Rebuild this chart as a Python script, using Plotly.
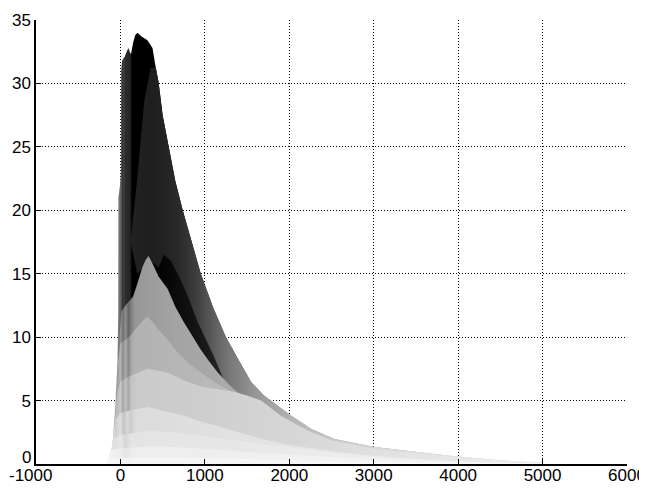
import plotly.graph_objects as go

# ---------------- data ----------------
# outer envelope (tallest, back-most surface row)
ENV_X = [-170, -140, -95, -60, -35, -26, -24, -5, 5, 8, 20, 50, 80, 95, 110, 125, 150, 175, 200,
         250, 320, 380, 417, 452, 500, 571, 650, 738, 850, 952, 1100, 1250, 1400, 1550, 1700,
         1800, 2024, 2262, 2536, 3012, 3536, 3930, 4500, 5000]
ENV_Y = [0, 0.4, 1.4, 4.6, 8.0, 12.0, 21.0, 22.0, 23.0, 31.0, 31.8, 32.1, 32.6, 32.8, 32.5, 32.3, 33.2, 33.8, 34.0,
         33.7, 33.4, 32.8, 31.3, 30.1, 27.5, 25.0, 22.3, 20.0, 17.4, 15.0, 12.3, 10.0, 8.2, 6.45, 5.4,
         4.9, 3.8, 2.75, 1.97, 1.34, 0.94, 0.63, 0.3, 0.1]

# second row (dark band in front of the peak)
B2_UP_X = [119, 200, 280, 357, 417, 452, 500, 571, 650, 738, 850, 952, 1100, 1250, 1400, 1550, 1700,
           1800, 2024, 2262, 2536, 3012, 3536, 3930, 4500, 5000]
B2_UP_Y = [17.5, 22.5, 28.5, 31.2, 31.3, 30.1, 27.5, 25.0, 22.3, 20.0, 17.4, 15.0, 12.3, 10.0, 8.2, 6.45, 5.4,
           4.9, 3.8, 2.75, 1.97, 1.34, 0.94, 0.63, 0.3, 0.1]
B2_LO_X = [119, 200, 280, 357, 452, 512, 600, 714, 800, 914, 1000, 1107, 1226, 1300, 1400, 1500, 5000]
B2_LO_Y = [17.5, 15.0, 15.5, 16.0, 15.5, 16.5, 16.0, 14.5, 13.2, 11.2, 10.0, 8.5, 6.6, 5.5, 3.0, 0, 0]

# front rows (lower and lighter)
L16_X = [-45, -30, -10, 10, 60, 100, 150, 200, 260, 300, 333, 380, 450, 560, 650, 750, 850, 952,
         1050, 1155, 1310, 1450, 1700, 2000]
L16_Y = [0, 6.0, 10.0, 12.0, 12.5, 12.8, 13.2, 14.2, 15.5, 16.1, 16.4, 15.8, 14.8, 13.8, 12.4, 11.2, 10.1, 9.0,
         8.1, 7.2, 6.1, 5.3, 4.0, 0]

L11_X = [-70, -50, -30, 0, 100, 200, 280, 321, 380, 450, 560, 650, 750, 850, 952, 1100, 1345, 1500, 1800, 2100]
L11_Y = [0, 5.0, 8.0, 9.5, 10.0, 10.8, 11.4, 11.6, 11.2, 10.6, 9.8, 9.0, 8.3, 7.7, 7.2, 6.5, 5.6, 4.8, 3.5, 0]

L7_X = [-90, -70, -40, 0, 100, 200, 321, 450, 560, 750, 952, 1150, 1345, 1500, 1667, 1900, 2200, 2500,
        3000, 3500, 4000, 4500, 5000]
L7_Y = [0, 3.0, 5.5, 6.5, 6.9, 7.2, 7.5, 7.35, 7.2, 6.6, 6.1, 5.9, 5.7, 5.4, 5.0, 3.8, 2.7, 1.85,
        1.2, 0.85, 0.5, 0.25, 0.07]

L4_X = [-110, -90, -60, 0, 150, 330, 500, 750, 1000, 1155, 1400, 1667, 2000, 2500, 3000, 3500, 4000, 4500, 5000]
L4_Y = [0, 2.0, 3.5, 4.0, 4.3, 4.5, 4.2, 3.8, 3.25, 3.0, 2.5, 2.0, 1.5, 1.0, 0.65, 0.4, 0.22, 0.1, 0.03]

L2_X = [-130, -110, -80, 0, 357, 600, 952, 1300, 1667, 2000, 2500, 3000, 3500, 4000, 4500, 5000]
L2_Y = [0, 1.2, 2.0, 2.3, 2.6, 2.5, 2.2, 1.9, 1.6, 1.3, 0.9, 0.55, 0.33, 0.18, 0.08, 0.02]

L1_X = [-150, -130, -100, 0, 400, 1000, 1600, 2000, 2500, 3000, 4000, 5000]
L1_Y = [0, 0.7, 1.1, 1.25, 1.4, 1.2, 0.9, 0.75, 0.55, 0.35, 0.12, 0.02]

L0_X = [-170, -150, -100, 400, 1500, 2500, 3500, 5000]
L0_Y = [0, 0.3, 0.45, 0.55, 0.4, 0.2, 0.08, 0.01]

X_TICKS = [-1000, 0, 1000, 2000, 3000, 4000, 5000, 6000]
Y_TICKS = [0, 5, 10, 15, 20, 25, 30, 35]

# ---------------- styles: horizontal shading stops (x, grey level 0-255) ----------------
ENV_SHADE = [(-170, 226), (-120, 200), (-80, 170), (-40, 140), (-20, 120), (0, 104), (8, 70), (15, 92),
             (25, 50), (40, 64), (60, 44), (95, 40), (115, 36), (128, 10), (140, 0), (400, 0), (600, 8),
             (800, 16), (1000, 24), (1300, 45), (2000, 130), (5000, 221)]
B2_SHADE = [(119, 34), (357, 30), (500, 34), (700, 42), (900, 62), (1100, 92), (1300, 120), (1600, 150),
            (2000, 178), (2500, 200), (3000, 214), (4000, 230), (5000, 240)]
L16_SHADE = [(-45, 170), (-20, 128), (0, 150), (30, 112), (60, 140), (95, 104), (130, 128), (170, 150),
             (333, 156), (700, 164), (1300, 170), (2000, 176)]
L11_SHADE = [(-70, 196), (-30, 160), (0, 180), (30, 140), (60, 170), (95, 136), (130, 168), (170, 178),
             (321, 179), (1000, 184), (2100, 192)]
L7_SHADE = [(-90, 214), (-40, 186), (0, 200), (30, 166), (60, 192), (95, 168), (130, 196), (200, 202),
            (321, 203), (1000, 206), (2000, 214), (3000, 224), (5000, 240)]
L4_SHADE = [(-110, 230), (-60, 208), (0, 220), (40, 196), (80, 216), (120, 204), (180, 220), (330, 220),
            (1500, 226), (3000, 234), (5000, 244)]
L2_SHADE = [(-130, 238), (-80, 222), (0, 230), (60, 214), (120, 228), (1000, 230), (3000, 238), (5000, 246)]
L1_SHADE = [(-150, 244), (0, 236), (60, 228), (150, 238), (1000, 238), (5000, 248)]
L0_SHADE = [(-170, 248), (0, 244), (5000, 252)]


def gradient(stops):
    x0, x1 = stops[0][0], stops[-1][0]
    scale = []
    for x, g in stops:
        pos = (x - x0) / (x1 - x0)
        scale.append([pos, f"rgb({g},{g},{g})"])
    return dict(type="horizontal", start=x0, stop=x1, colorscale=scale)


fig = go.Figure()


def area(xs, ys, shade):
    fig.add_trace(go.Scatter(x=xs, y=ys, mode="lines", line=dict(width=0, color="rgba(0,0,0,0)"),
                             fill="tozeroy", fillgradient=gradient(shade),
                             hoverinfo="skip", showlegend=False))


def band(ux, uy, lx, ly, shade):
    xs = list(ux) + list(reversed(lx))
    ys = list(uy) + list(reversed(ly))
    fig.add_trace(go.Scatter(x=xs, y=ys, mode="lines", line=dict(width=0, color="rgba(0,0,0,0)"),
                             fill="toself", fillgradient=gradient(shade),
                             hoverinfo="skip", showlegend=False))


area(ENV_X, ENV_Y, ENV_SHADE)
band(B2_UP_X, B2_UP_Y, B2_LO_X, B2_LO_Y, B2_SHADE)
area(L16_X, L16_Y, L16_SHADE)
area(L11_X, L11_Y, L11_SHADE)
area(L7_X, L7_Y, L7_SHADE)
area(L4_X, L4_Y, L4_SHADE)
area(L2_X, L2_Y, L2_SHADE)
area(L1_X, L1_Y, L1_SHADE)
area(L0_X, L0_Y, L0_SHADE)

axis_font = dict(family="Liberation Sans, Arial, sans-serif", size=17, color="black")
common = dict(showgrid=True, gridcolor="black", gridwidth=1, griddash="1px,2px",
              showline=True, linecolor="black", linewidth=1.5,
              ticks="inside", ticklen=5, tickcolor="black", tickwidth=1,
              zeroline=False, tickfont=axis_font, layer="above traces", automargin=False)

# the corner labels are placed as annotations (shifted like the original)
fig.update_xaxes(range=[-1000, 6000], tickvals=X_TICKS, ticklabelstandoff=-5,
                 ticktext=["" if v == X_TICKS[0] else str(v) for v in X_TICKS], **common)
fig.update_yaxes(range=[0, 35], tickvals=Y_TICKS,
                 ticktext=["" if v == Y_TICKS[0] else str(v) for v in Y_TICKS], **common)

fig.add_annotation(x=0, xref="paper", y=Y_TICKS[0], yref="y", text=str(Y_TICKS[0]),
                   showarrow=False, xanchor="right", yanchor="middle", xshift=-3, yshift=7,
                   font=axis_font)
fig.add_annotation(x=X_TICKS[0], xref="x", y=0, yref="paper", text=str(X_TICKS[0]),
                   showarrow=False, xanchor="center", yanchor="top", xshift=-6, yshift=0,
                   font=axis_font)

# page body adds an 8px offset; margins compensate so the plot area sits where the original's does
fig.update_layout(width=647, height=488, margin=dict(l=28, r=28, t=12, b=32),
                  paper_bgcolor="white", plot_bgcolor="white", showlegend=False)

fig.write_html("out.html")
